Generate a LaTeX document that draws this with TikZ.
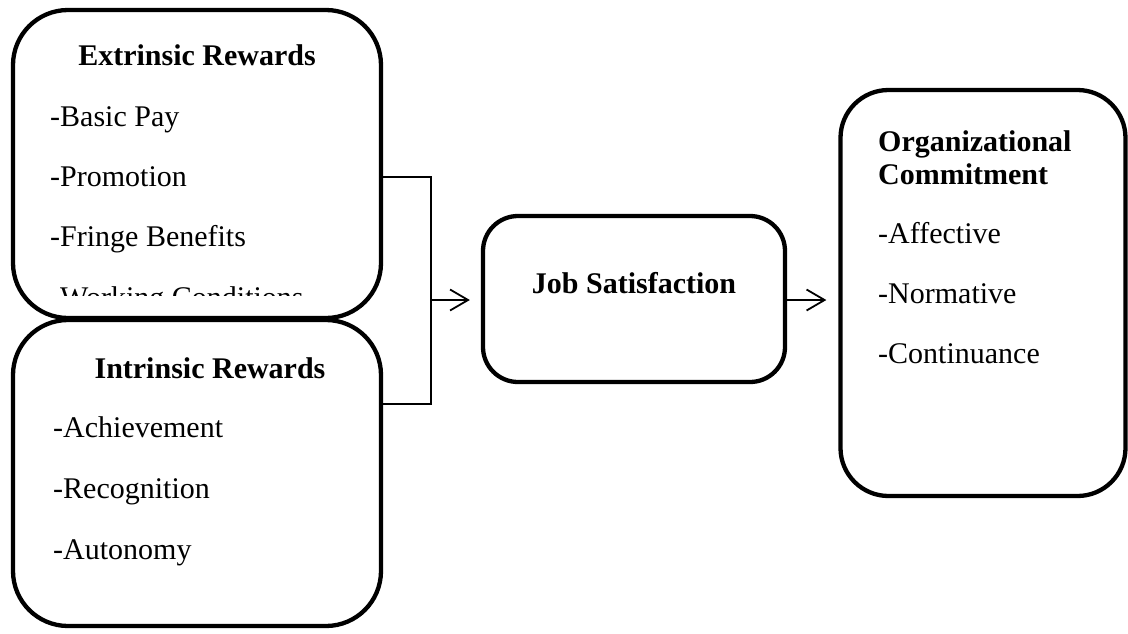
\documentclass[tikz,border=0pt]{standalone}
\usepackage{fontspec}
\setmainfont{Liberation Serif}
\usetikzlibrary{arrows.meta}
\begin{document}
\begin{tikzpicture}[x=1pt,y=-1pt,
  box/.style={draw=black,line width=4.3pt,fill=white,rounded corners=#1,inner sep=0pt},
  box/.default=55pt,
  lbl/.style={anchor=base west,inner sep=0pt,font=\fontsize{30}{36}\selectfont},
  ttl/.style={anchor=base,inner sep=0pt,font=\fontsize{30}{36}\selectfont\bfseries},
  conn/.style={draw=black,line width=1.6pt},
  arr/.style={conn,-{Straight Barb[length=18pt,width=21pt,line width=1.8pt]}}
]
\useasboundingbox (0,0) rectangle (1128,633);
% Extrinsic box
\node[box,minimum width=368pt,minimum height=308pt] (ext) at (197,164) {};
\node[ttl] (extt) at (197,65) {Extrinsic Rewards};
\node[lbl] (e1) at (50,126) {-Basic Pay};
\node[lbl] (e2) at (50,186) {-Promotion};
\node[lbl] (e3) at (50,246) {-Fringe Benefits};
\begin{scope}
\clip (0,0) rectangle (1128,295);
\node[lbl] (e4) at (50,307) {-Working Conditions};
\end{scope}
% Intrinsic box
\node[box,minimum width=368pt,minimum height=306pt] (int) at (197,473) {};
\node[ttl] (intt) at (210,378) {Intrinsic Rewards};
\node[lbl] (i1) at (53,437) {-Achievement};
\node[lbl] (i2) at (53,498) {-Recognition};
\node[lbl] (i3) at (53,559) {-Autonomy};
% Job Satisfaction
\node[box=35pt,minimum width=302pt,minimum height=166pt] (js) at (634,299) {};
\node[ttl] (jst) at (634,293) {Job Satisfaction};
% Organizational Commitment
\node[box=48pt,minimum width=285pt,minimum height=406pt] (oc) at (983,293) {};
\node[lbl,font=\fontsize{30}{36}\selectfont\bfseries] (oct1) at (878,151) {Organizational};
\node[lbl,font=\fontsize{30}{36}\selectfont\bfseries] (oct2) at (878,184) {Commitment};
\node[lbl] (o1) at (878,243) {-Affective};
\node[lbl] (o2) at (878,303) {-Normative};
\node[lbl] (o3) at (878,363) {-Continuance};
% Connectors
\coordinate (bt) at (431,177);
\coordinate (bb) at (431,404);
\coordinate (bm) at (431,300);
\draw[conn] (bt -| ext.east) -- (bt) -- (bb) -- (bb -| int.east);
\draw[arr,shorten >=11pt] (bm) -- (bm -| js.west);
\coordinate (am) at (785,300);
\draw[arr,shorten >=12pt] (am -| js.east) -- (am -| oc.west);
\end{tikzpicture}
\end{document}
